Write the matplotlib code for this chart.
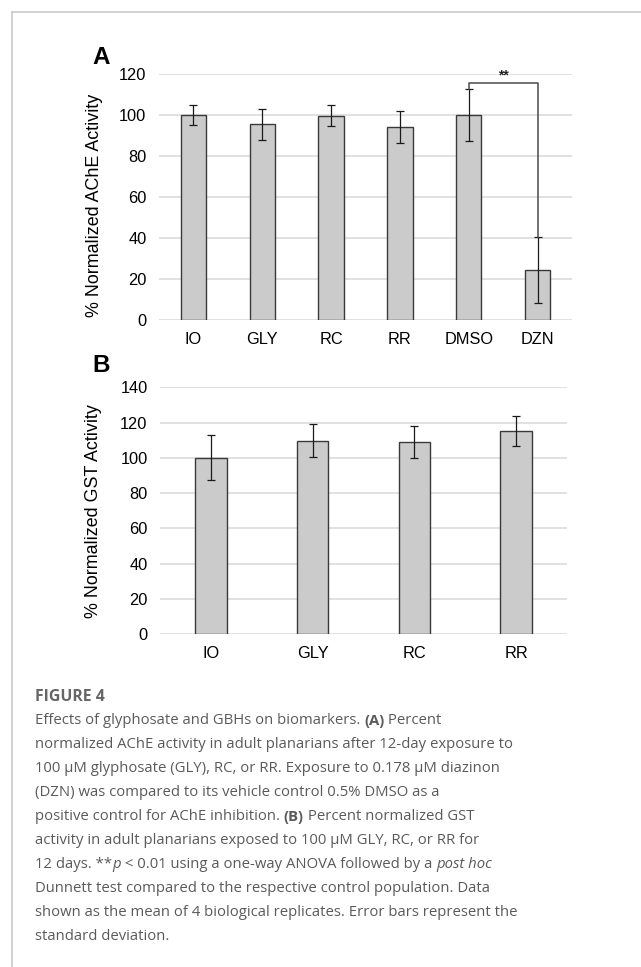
import numpy as np
import matplotlib
matplotlib.use('Agg')
import matplotlib.pyplot as plt
from matplotlib.lines import Line2D

# panel A data
cats_a = ['IO', 'GLY', 'RC', 'RR', 'DMSO', 'DZN']
ache = [100, 95.5, 99.6, 94.0, 100, 24.3]
ache_sd = [4.7, 7.6, 5.1, 7.8, 12.7, 16.1]
yticks_a = [0, 20, 40, 60, 80, 100, 120]

# panel B data
cats_b = ['IO', 'GLY', 'RC', 'RR']
gst = [100, 109.8, 108.9, 115.0]
gst_sd = [12.7, 9.1, 9.3, 8.5]
yticks_b = [0, 20, 40, 60, 80, 100, 120, 140]

sig_y = 115.5

W, H = 641, 967
fig = plt.figure(figsize=(W / 100, H / 100), dpi=100)
plt.rcParams['font.family'] = ['Liberation Sans', 'DejaVu Sans']

bar_fc = '#cbcbcb'
bar_ec = '#3a3a3a'
grid_c = '#d9d9d9'


def style_ax(ax, yticks, ylabel, lab_x, lab_y):
    ax.set_ylim(yticks[0], yticks[-1])
    ax.set_yticks(yticks)
    ax.yaxis.grid(True, color=grid_c, lw=1.1)
    ax.set_axisbelow(True)
    for s in ax.spines.values():
        s.set_visible(False)
    ax.tick_params(axis='both', length=0, labelsize=11.8, colors='black')
    ax.tick_params(axis='y', pad=9)
    ax.tick_params(axis='x', pad=9)
    ax.set_ylabel(ylabel, fontsize=12.9)
    ax.yaxis.set_label_coords(lab_x, lab_y)


# panel A
axA = fig.add_axes([159 / W, 1 - 320 / H, 413 / W, 246 / H])
xa = np.arange(len(cats_a))
axA.bar(xa, ache, width=0.37, color=bar_fc, edgecolor=bar_ec, lw=1.0, zorder=2)
axA.errorbar(xa, ache, yerr=ache_sd, fmt='none', ecolor='#1a1a1a', elinewidth=0.9,
             capsize=3, capthick=0.9, zorder=3)
axA.set_xticks(xa)
axA.set_xticklabels(cats_a)
axA.set_xlim(-0.5, len(cats_a) - 0.5)
style_ax(axA, yticks_a, '% Normalized AChE Activity', -0.135, 0.467)

# significance bracket DMSO vs DZN
i, j = 4, 5
axA.plot([i, i, j, j], [ache[i] + ache_sd[i], sig_y, sig_y, ache[j] + ache_sd[j]],
         color='#4a4a4a', lw=1.1, zorder=4, clip_on=False)
axA.text((i + j) / 2, sig_y + 0.3, '**', ha='center', va='bottom', fontsize=10,
         fontweight='bold', color='#222222')

# panel B
axB = fig.add_axes([160 / W, 1 - 634 / H, 407 / W, 246.7 / H])
xb = np.arange(len(cats_b))
axB.bar(xb, gst, width=0.31, color=bar_fc, edgecolor=bar_ec, lw=1.0, zorder=2)
axB.errorbar(xb, gst, yerr=gst_sd, fmt='none', ecolor='#1a1a1a', elinewidth=0.9,
             capsize=3, capthick=0.9, zorder=3)
axB.set_xticks(xb)
axB.set_xticklabels(cats_b)
axB.set_xlim(-0.5, len(cats_b) - 0.5)
style_ax(axB, yticks_b, '% Normalized GST Activity', -0.142, 0.5)

# panel letters
fig.text(92 / W, 1 - 64 / H, 'A', fontsize=17.5, fontweight='bold', va='baseline')
fig.text(92 / W, 1 - 371.5 / H, 'B', fontsize=17.5, fontweight='bold', va='baseline')

# frame lines
fig.add_artist(Line2D([11.5 / W, 1], [1 - 11.5 / H, 1 - 11.5 / H], color='#cfcfcf', lw=1.3))
fig.add_artist(Line2D([11.5 / W, 11.5 / W], [1 - 11.5 / H, 0], color='#cfcfcf', lw=1.3))

# caption
cap_font = 'Open Sans'
cap_color = '#5a5a5a'
cap_size = 10.7
fig.text(35 / W, 1 - 697 / H, 'FIGURE 4', fontsize=11.4, fontweight='bold', color='#666666',
         family=cap_font, va='center')

lines = [
    [('Effects of glyphosate and GBHs on biomarkers. ', 'normal', 'normal'),
     ('(A)', 'bold', 'normal'), (' Percent', 'normal', 'normal')],
    [('normalized AChE activity in adult planarians after 12-day exposure to', 'normal', 'normal')],
    [('100 μM glyphosate (GLY), RC, or RR. Exposure to 0.178 μM diazinon', 'normal', 'normal')],
    [('(DZN) was compared to its vehicle control 0.5% DMSO as a', 'normal', 'normal')],
    [('positive control for AChE inhibition. ', 'normal', 'normal'), ('(B)', 'bold', 'normal'),
     (' Percent normalized GST', 'normal', 'normal')],
    [('activity in adult planarians exposed to 100 μM GLY, RC, or RR for', 'normal', 'normal')],
    [('12 days. **', 'normal', 'normal'), ('p', 'normal', 'italic'),
     (' < 0.01 using a one-way ANOVA followed by a ', 'normal', 'normal'),
     ('post hoc', 'normal', 'italic')],
    [('Dunnett test compared to the respective control population. Data', 'normal', 'normal')],
    [('shown as the mean of 4 biological replicates. Error bars represent the', 'normal', 'normal')],
    [('standard deviation.', 'normal', 'normal')],
]

renderer = fig.canvas.get_renderer()


def seg_width(s, weight, style):
    t1 = fig.text(0, 0, '|' + s + '|', fontsize=cap_size, family=cap_font,
                  fontweight=weight, fontstyle=style)
    t2 = fig.text(0, 0, '||', fontsize=cap_size, family=cap_font,
                  fontweight=weight, fontstyle=style)
    w = t1.get_window_extent(renderer).width - t2.get_window_extent(renderer).width
    t1.remove()
    t2.remove()
    return w


y0 = 720.7
dy = 24.0
for k, segs in enumerate(lines):
    x = 35.0
    y = 1 - (y0 + k * dy) / H
    for s, weight, style in segs:
        fig.text(x / W, y, s, fontsize=cap_size, family=cap_font, fontweight=weight,
                 fontstyle=style, color=cap_color, va='center')
        x += seg_width(s, weight, style)

fig.savefig('out.png', dpi=100, facecolor='white')
